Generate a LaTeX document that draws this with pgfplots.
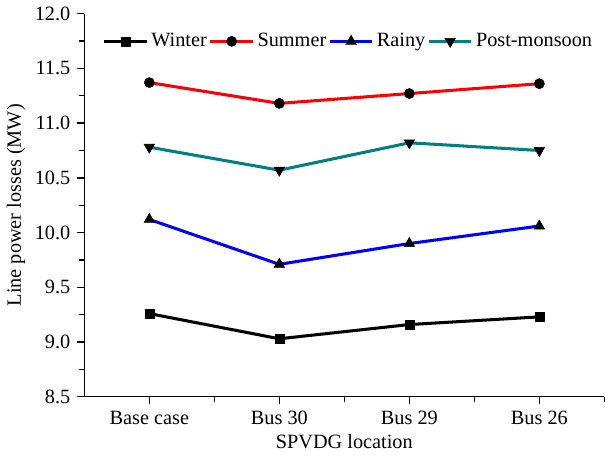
\documentclass[border=0pt]{standalone}
\usepackage{pgfplots}
\pgfplotsset{compat=1.18}
\usepackage{fontspec}
\setmainfont{Liberation Serif}
\definecolor{pm}{RGB}{0,128,128}
\begin{document}
\fontsize{20}{23}\selectfont
\begin{tikzpicture}
\begin{axis}[
  width=513pt, height=378pt, scale only axis,
  xmin=-0.5, xmax=3.5, ymin=8.5, ymax=12.0,
  axis x line*=bottom, axis y line*=left,
  axis line style={line width=1.3pt, -},
  xtick={0,1,2,3},
  xticklabels={Base case, Bus 30, Bus 29, Bus 26},
  minor xtick={0.5,1.5,2.5,3.5},
  ytick={8.5,9.0,9.5,10.0,10.5,11.0,11.5,12.0},
  minor ytick={8.75,9.25,9.75,10.25,10.75,11.25,11.75},
  yticklabel style={/pgf/number format/.cd, fixed, fixed zerofill, precision=1},
  /pgf/number format/assume math mode=true,
  tick align=outside,
  major tick length=7pt, minor tick length=5pt,
  every tick/.style={black, line width=1.3pt},
  xlabel={SPVDG location},
  ylabel={Line power losses (MW)},
  xlabel style={yshift=4pt},
  ylabel style={yshift=-4pt},
  ticklabel style={font=\fontsize{20}{23}\selectfont},
  label style={font=\fontsize{20}{23}\selectfont},
  legend columns=4,
  legend style={draw=none, fill=none, at={(0.035,0.955)}, anchor=north west,
    font=\fontsize{20}{23}\selectfont, column sep=0pt, inner sep=0pt,
    /tikz/every odd column/.append style={column sep=1pt}},
  legend image code/.code={
    \draw[mark repeat=2, mark phase=2] plot coordinates {(0pt,0pt) (21pt,0pt) (42pt,0pt)};
  },
  every axis plot/.append style={line width=3pt},
]
\addplot[black, mark=square*, mark size=4.5pt, mark options={solid, line width=0.5pt}] coordinates {(0,9.26) (1,9.03) (2,9.16) (3,9.23)};
\addlegendentry{Winter}
\addplot[red, mark=*, mark size=5pt, mark options={fill=black, draw=black, line width=0.5pt}] coordinates {(0,11.37) (1,11.18) (2,11.27) (3,11.36)};
\addlegendentry{Summer}
\addplot[blue, mark=triangle*, mark size=6pt, mark options={fill=black, draw=black, line width=0.5pt}] coordinates {(0,10.12) (1,9.71) (2,9.90) (3,10.06)};
\addlegendentry{Rainy}
\addplot[pm, mark=triangle*, mark size=6pt, mark options={fill=black, draw=black, rotate=180, line width=0.5pt}] coordinates {(0,10.78) (1,10.57) (2,10.82) (3,10.75)};
\addlegendentry{Post-monsoon}
\end{axis}
\end{tikzpicture}
\end{document}
